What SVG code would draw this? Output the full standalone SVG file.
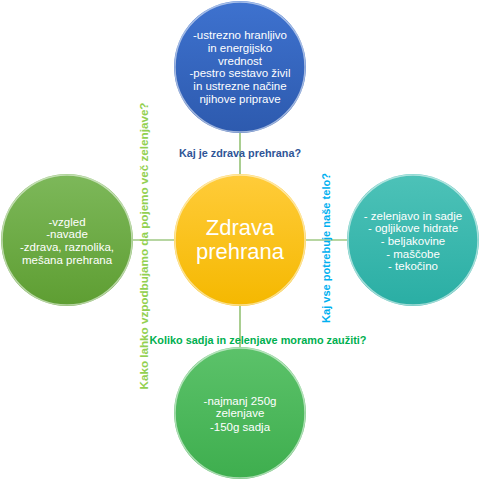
<svg xmlns="http://www.w3.org/2000/svg" width="480" height="480" viewBox="0 0 480 480">
<style>
.t{font-family:"Liberation Sans",Arial,sans-serif;font-size:11.5px;fill:#fff;text-anchor:middle}
.big{font-family:"Liberation Sans",Arial,sans-serif;font-size:22px;fill:#fff;text-anchor:middle}
.q{font-family:"Liberation Sans",Arial,sans-serif;font-size:11.5px;font-weight:bold;text-anchor:middle}
.rim{fill:none;stroke:#ffffff;stroke-opacity:0.55;stroke-width:1.5}
</style>
<defs>
<linearGradient id="gBlue" x1="0" y1="0" x2="0" y2="1"><stop offset="0" stop-color="#3E72CF"/><stop offset="1" stop-color="#2D5AAE"/></linearGradient>
<linearGradient id="gYel" x1="0" y1="0" x2="0" y2="1"><stop offset="0" stop-color="#FFCC3A"/><stop offset="1" stop-color="#F5B800"/></linearGradient>
<linearGradient id="gLeft" x1="0" y1="0" x2="0" y2="1"><stop offset="0" stop-color="#7DB85A"/><stop offset="1" stop-color="#5E9E32"/></linearGradient>
<linearGradient id="gRight" x1="0" y1="0" x2="0" y2="1"><stop offset="0" stop-color="#4DC2B8"/><stop offset="1" stop-color="#2AAEA4"/></linearGradient>
<linearGradient id="gBot" x1="0" y1="0" x2="0" y2="1"><stop offset="0" stop-color="#5CC26A"/><stop offset="1" stop-color="#3EAE4E"/></linearGradient>
</defs>
<g id="connectors" stroke="#70AD47" stroke-width="1.2">
<line x1="240" y1="133" x2="240" y2="174"/>
<line x1="240" y1="306" x2="240" y2="347"/>
<line x1="133" y1="240" x2="174" y2="240"/>
<line x1="306" y1="240" x2="347" y2="240"/>
</g>
<g id="top">
<circle cx="240" cy="67" r="66" fill="url(#gBlue)"/>
<circle cx="240" cy="67" r="65" class="rim"/>
<text class="t" x="240" y="39">-ustrezno hranljivo</text>
<text class="t" x="240" y="52">in energijsko</text>
<text class="t" x="240" y="65">vrednost</text>
<text class="t" x="240" y="77">-pestro sestavo živil</text>
<text class="t" x="240" y="90">in ustrezne načine</text>
<text class="t" x="240" y="103">njihove priprave</text>
</g>
<g id="center">
<circle cx="240" cy="240" r="66" fill="url(#gYel)"/>
<circle cx="240" cy="240" r="65" class="rim"/>
<text class="big" x="240" y="235">Zdrava</text>
<text class="big" x="240" y="259">prehrana</text>
</g>
<g id="left">
<circle cx="67" cy="240" r="66" fill="url(#gLeft)"/>
<circle cx="67" cy="240" r="65" class="rim"/>
<text class="t" x="67" y="226">-vzgled</text>
<text class="t" x="67" y="238">-navade</text>
<text class="t" x="67" y="251">-zdrava, raznolika,</text>
<text class="t" x="67" y="264">mešana prehrana</text>
</g>
<g id="right">
<circle cx="413" cy="240" r="66" fill="url(#gRight)"/>
<circle cx="413" cy="240" r="65" class="rim"/>
<text class="t" x="413" y="220">- zelenjavo in sadje</text>
<text class="t" x="413" y="232">- ogljikove hidrate</text>
<text class="t" x="413" y="245">- beljakovine</text>
<text class="t" x="413" y="258">- maščobe</text>
<text class="t" x="413" y="270">- tekočino</text>
</g>
<g id="bottom">
<circle cx="240" cy="413" r="66" fill="url(#gBot)"/>
<circle cx="240" cy="413" r="65" class="rim"/>
<text class="t" x="240" y="405">-najmanj 250g</text>
<text class="t" x="240" y="417">zelenjave</text>
<text class="t" x="240" y="431">-150g sadja</text>
</g>
<g id="labels">
<text class="q" x="240" y="157" fill="#2F5597" textLength="122" lengthAdjust="spacingAndGlyphs">Kaj je zdrava prehrana?</text>
<text class="q" x="258" y="344" fill="#00B050" textLength="217" lengthAdjust="spacingAndGlyphs">Koliko sadja in zelenjave moramo zaužiti?</text>
<text class="q" transform="translate(148,246) rotate(-90)" x="0" y="0" fill="#92D050" textLength="287" lengthAdjust="spacingAndGlyphs">Kako lahko vzpodbujamo da pojemo več zelenjave?</text>
<text class="q" transform="translate(330,248) rotate(-90)" x="0" y="0" fill="#00B0F0" textLength="150" lengthAdjust="spacingAndGlyphs">Kaj vse potrebuje naše telo?</text>
</g>
</svg>
